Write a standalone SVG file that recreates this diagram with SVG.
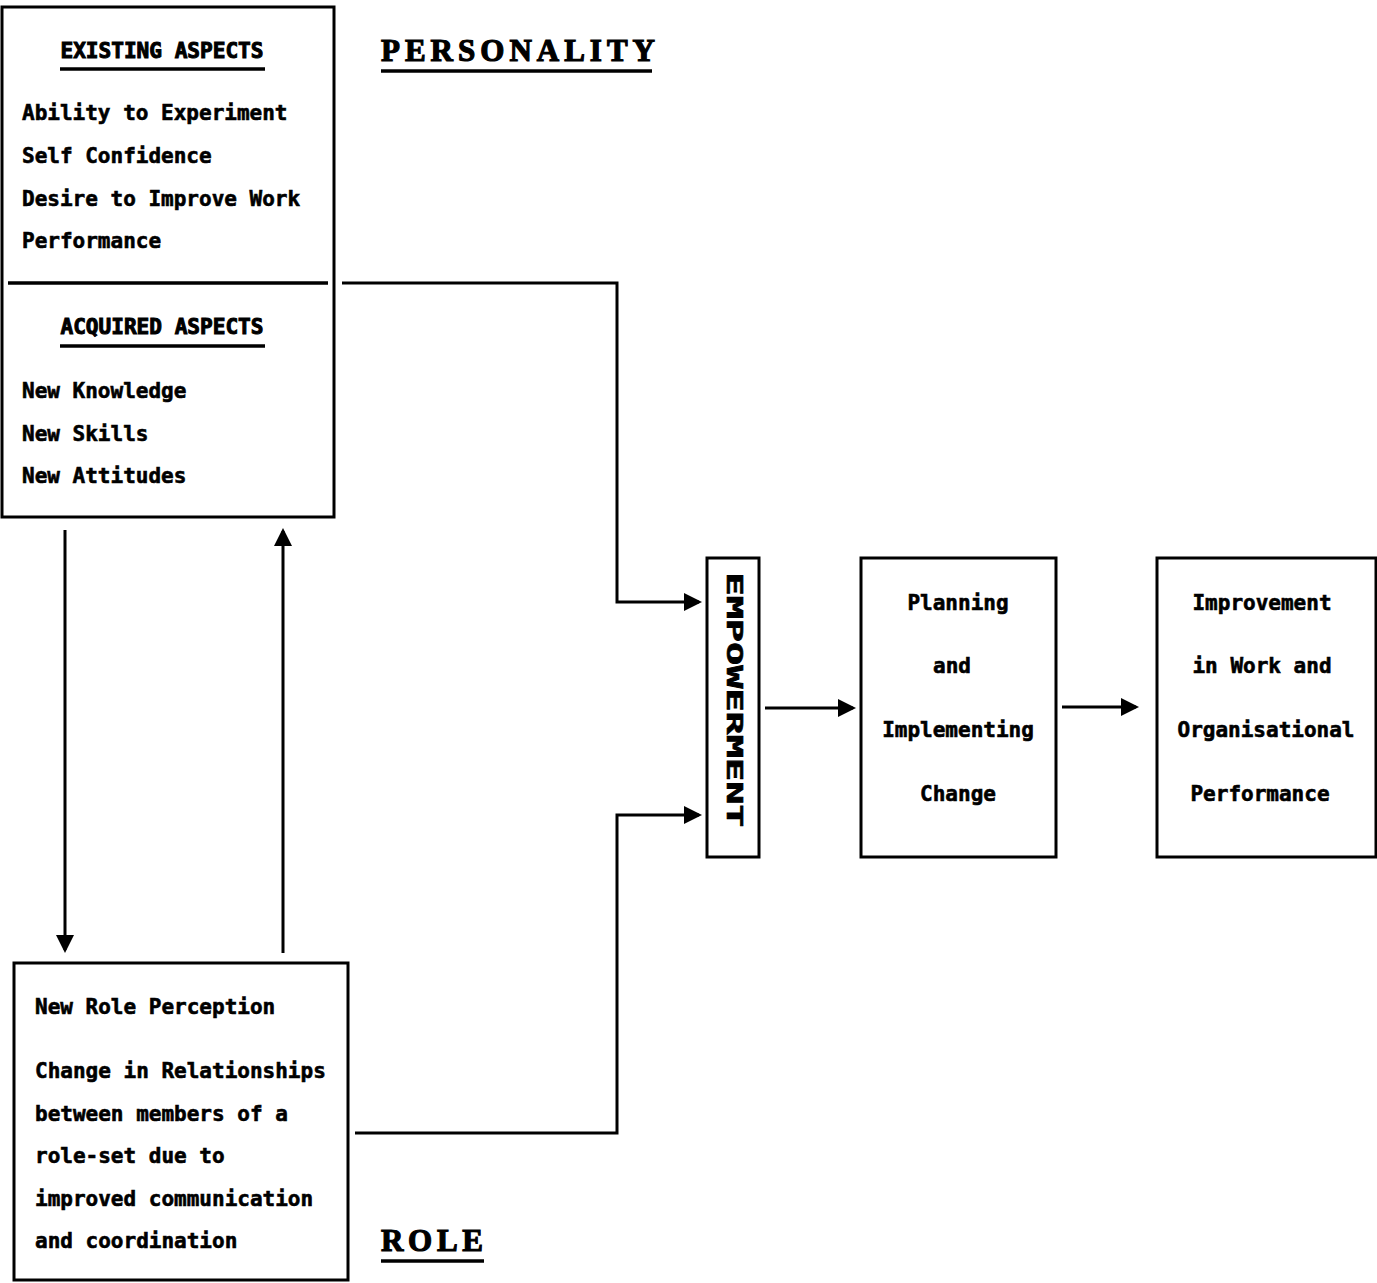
<svg xmlns="http://www.w3.org/2000/svg" width="1377" height="1283" viewBox="0 0 1377 1283">
<style>
.box{fill:#fff;stroke:#000;stroke-width:3}
.t{font-family:"DejaVu Sans Mono","Liberation Mono",monospace;font-weight:bold;font-size:21px;fill:#000;stroke:#000;stroke-width:0.6}
.c{text-anchor:middle}
.h{font-family:"DejaVu Sans Mono","Liberation Mono",monospace;font-weight:bold;font-size:21px;fill:#000;stroke:#000;stroke-width:1;text-anchor:middle}
.big{font-family:"Liberation Serif","DejaVu Serif",serif;font-weight:bold;font-size:31px;fill:#000;stroke:#000;stroke-width:1.2}
.ul{stroke:#000;stroke-width:3.5}
.con{fill:none;stroke:#000;stroke-width:3}
</style>
<defs>
<marker id="ah" markerWidth="6" markerHeight="6" refX="5" refY="3" orient="auto" markerUnits="strokeWidth">
<path d="M0,0 L6,3 L0,6 Z" fill="#000"/>
</marker>
</defs>
<rect width="1377" height="1283" fill="#fff"/>

<g id="personality-box">
<rect class="box" x="2" y="7" width="332" height="510"/>
<line class="ul" x1="8" y1="283" x2="328" y2="283"/>
<text class="h" x="162" y="58" textLength="203" lengthAdjust="spacingAndGlyphs">EXISTING ASPECTS</text>
<line class="ul" x1="60" y1="69" x2="265" y2="69"/>
<text class="t" x="22" y="120">Ability to Experiment</text>
<text class="t" x="22" y="163">Self Confidence</text>
<text class="t" x="22" y="206">Desire to Improve Work</text>
<text class="t" x="22" y="248">Performance</text>
<text class="h" x="162" y="334" textLength="203" lengthAdjust="spacingAndGlyphs">ACQUIRED ASPECTS</text>
<line class="ul" x1="60" y1="346" x2="265" y2="346"/>
<text class="t" x="22" y="398">New Knowledge</text>
<text class="t" x="22" y="441">New Skills</text>
<text class="t" x="22" y="483">New Attitudes</text>
</g>

<g id="personality-label">
<text class="big" x="381" y="61" textLength="274" lengthAdjust="spacing">PERSONALITY</text>
<line class="ul" x1="381" y1="71" x2="652" y2="71"/>
</g>

<g id="role-box">
<rect class="box" x="14" y="963" width="334" height="317"/>
<text class="t" x="35" y="1014">New Role Perception</text>
<text class="t" x="35" y="1078">Change in Relationships</text>
<text class="t" x="35" y="1121">between members of a</text>
<text class="t" x="35" y="1163">role-set due to</text>
<text class="t" x="35" y="1206">improved communication</text>
<text class="t" x="35" y="1248">and coordination</text>
</g>

<g id="role-label">
<text class="big" x="381" y="1251" textLength="102" lengthAdjust="spacing">ROLE</text>
<line class="ul" x1="381" y1="1261" x2="484" y2="1261"/>
</g>

<g id="empowerment">
<rect class="box" x="707" y="558" width="52" height="299"/>
<text class="t" x="0" y="0" font-size="17" text-anchor="middle" textLength="255" lengthAdjust="spacingAndGlyphs" transform="translate(727,700) rotate(90)">EMPOWERMENT</text>
</g>

<g id="planning">
<rect class="box" x="861" y="558" width="195" height="299"/>
<text class="t c" x="958" y="610">Planning</text>
<text class="t c" x="952" y="673">and</text>
<text class="t c" x="958" y="737">Implementing</text>
<text class="t c" x="958" y="801">Change</text>
</g>

<g id="improvement">
<rect class="box" x="1157" y="558" width="219" height="299"/>
<text class="t c" x="1262" y="610">Improvement</text>
<text class="t c" x="1262" y="673">in Work and</text>
<text class="t c" x="1266" y="737">Organisational</text>
<text class="t c" x="1260" y="801">Performance</text>
</g>

<g id="connectors">
<polyline class="con" points="342,283 617,283 617,602 699,602" marker-end="url(#ah)"/>
<polyline class="con" points="355,1133 617,1133 617,815 699,815" marker-end="url(#ah)"/>
<line class="con" x1="765" y1="708" x2="853" y2="708" marker-end="url(#ah)"/>
<line class="con" x1="1062" y1="707" x2="1136" y2="707" marker-end="url(#ah)"/>
<line class="con" x1="65" y1="530" x2="65" y2="950" marker-end="url(#ah)"/>
<line class="con" x1="283" y1="953" x2="283" y2="531" marker-end="url(#ah)"/>
</g>
</svg>
